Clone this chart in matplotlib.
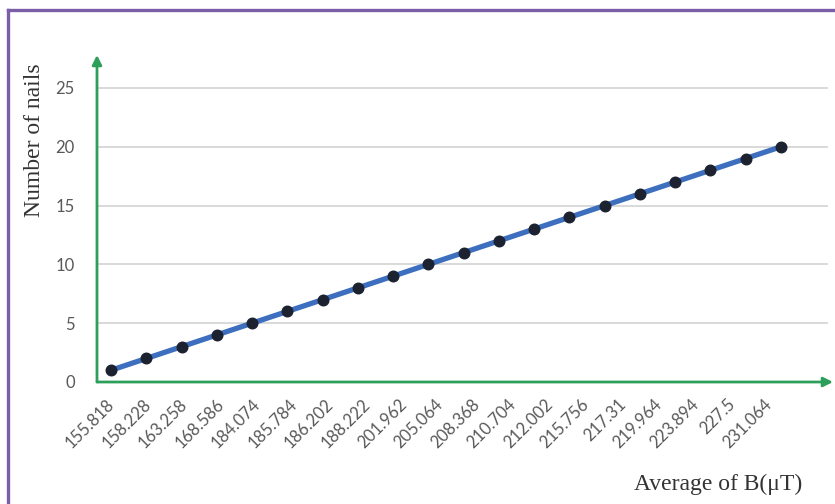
import matplotlib
matplotlib.use("Agg")
import matplotlib.pyplot as plt
from matplotlib.lines import Line2D
import numpy as np

# Average magnetic field readings (category labels) and nail counts
b_average = ["155.818", "158.228", "163.258", "168.586", "184.074", "185.784",
             "186.202", "188.222", "201.962", "205.064", "208.368", "210.704",
             "212.002", "215.756", "217.31", "219.964", "223.894", "227.5",
             "231.064"]
nails = [1, 2, 3, 4, 5, 6, 7, 8, 9, 10, 11, 12, 13, 14, 15, 16, 17, 18, 19, 20]
y_ticks = [0, 5, 10, 15, 20, 25]

W, H = 835, 504
fig = plt.figure(figsize=(W / 100, H / 100), dpi=100)
fig.patch.set_facecolor("white")

ax = fig.add_axes([97 / W, 1 - 382 / H, (833 - 97) / W, (382 - 55) / H])
ax.set_facecolor("white")

x = np.arange(1, len(nails) + 1)
x_left, x_right = 0.603, 21.475
ax.set_xlim(x_left, x_right)
ax.set_ylim(0, 27.8)

green = "#2e9e5b"
grey_txt = "#595959"

# horizontal gridlines
grid_end = 21.33
for yv in y_ticks[1:]:
    ax.plot([x_left, grid_end], [yv, yv], color="#d9d9d9", lw=1.4, zorder=1,
            solid_capstyle="butt")

# data line with markers
ax.plot(x, nails, color="#3d6fbe", lw=3.8, zorder=3, solid_capstyle="round")
ax.plot(x, nails, "o", color="#1d2230", markersize=7.6, zorder=4)

for s in ax.spines.values():
    s.set_visible(False)

# axis arrows
ax.annotate("", xy=(1.0, 0.0), xytext=(0.0, 0.0), xycoords="axes fraction",
            arrowprops=dict(arrowstyle="-|>", color=green, lw=2.0,
                            mutation_scale=14, shrinkA=0, shrinkB=0))
ax.annotate("", xy=(0.0, 1.0), xytext=(0.0, 0.0), xycoords="axes fraction",
            arrowprops=dict(arrowstyle="-|>", color=green, lw=2.0,
                            mutation_scale=14, shrinkA=0, shrinkB=0))

# y ticks
ax.set_yticks(y_ticks)
ax.set_yticklabels([str(v) for v in y_ticks], fontfamily="Lato",
                   fontsize=12, color=grey_txt)
ax.tick_params(axis="y", length=0, pad=16)

# x category labels, rotated
label_pos = np.linspace(0.86, 19.50, len(b_average))
ax.set_xticks(label_pos)
ax.set_xticklabels(b_average, rotation=45, ha="right", va="top",
                   rotation_mode="anchor", fontfamily="Lato", fontsize=12,
                   color=grey_txt)
ax.tick_params(axis="x", length=0, pad=10)

# axis titles
fig.text(35 / W, 1 - 140 / H, "Number of nails", rotation=90,
         ha="center", va="center", fontfamily="Liberation Serif",
         fontsize=17, color="#333333")
fig.text(802 / W, 1 - 484 / H, "Average of B(\u03bcT)", ha="right",
         va="center", fontfamily="Liberation Serif", fontsize=17,
         color="#333333")

# purple frame
purple = "#7b5ea7"
fig.add_artist(Line2D([8 / W, 8 / W], [0, 1 - 9.5 / H], color=purple,
                      lw=2.4, transform=fig.transFigure))
fig.add_artist(Line2D([8 / W, 1.0], [1 - 9.5 / H, 1 - 9.5 / H],
                      color=purple, lw=2.4, transform=fig.transFigure))

fig.savefig("out.png", dpi=100, facecolor="white")
